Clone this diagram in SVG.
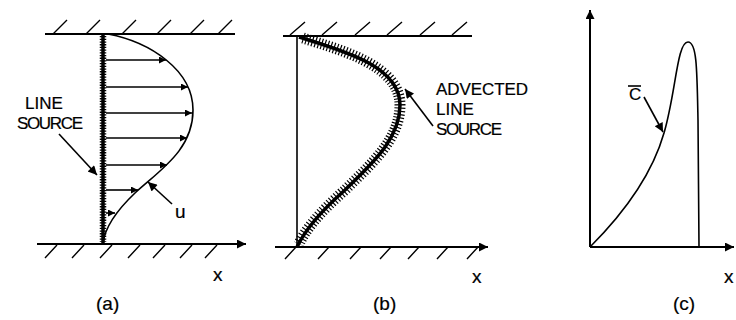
<svg xmlns="http://www.w3.org/2000/svg" width="736" height="320" viewBox="0 0 736 320">
<style>
.ln{stroke:#000;stroke-width:1.6;fill:none}
.wall{stroke:#000;stroke-width:2;fill:none}
.hat{stroke:#000;stroke-width:1.4;fill:none}
.t{font-family:"Liberation Sans",Arial,sans-serif;fill:#000;stroke:#000;stroke-width:0.2}
</style>
<defs>
<marker id="ah" viewBox="0 0 10 10" refX="10" refY="5" markerWidth="10" markerHeight="7" markerUnits="userSpaceOnUse" orient="auto">
<path d="M0,0 L10,5 L0,10 Z" fill="#000"/>
</marker>
<marker id="ahb" viewBox="0 0 10 10" refX="10" refY="5" markerWidth="14" markerHeight="9" markerUnits="userSpaceOnUse" orient="auto">
<path d="M0,0 L10,5 L0,10 Z" fill="#000"/>
</marker>
</defs>
<rect width="736" height="320" fill="#fff"/>

<g id="panel-a">
<path class="wall" d="M45,34 H235"/>
<path class="hat" d="M53,34 L67,20 M86,34 L100,20 M122,34 L136,20 M157,34 L171,20 M190,34 L204,20 M218,34 L232,20"/>
<path class="hat" d="M45,258 L57,245 M72,258 L84,245 M100,258 L112,245 M128,258 L140,245 M153,258 L165,245 M180,258 L192,245 M205,258 L217,245"/>
<path class="wall" d="M37,244 H246" marker-end="url(#ahb)"/>
<path d="M103,34 V244" stroke="#000" stroke-width="3.5" fill="none"/>
<path d="M103,36 V242" stroke="#000" stroke-width="6.5" stroke-dasharray="1.3 1.4" fill="none"/>
<path class="ln" d="M108,34 C150,42 193,70 193,110 C193,150 160,170 135,193 C115,212 105,228 103,243"/>
<g class="ln" marker-end="url(#ah)">
<path d="M106,60 H166"/>
<path d="M106,87 H188"/>
<path d="M106,113 H192"/>
<path d="M106,138 H187"/>
<path d="M106,165 H167"/>
<path d="M106,190 H138"/>
<path d="M106,213 H115"/>
</g>
<path class="ln" d="M59,134 L97,175" marker-end="url(#ahb)"/>
<path class="ln" d="M172,204 L148,182" marker-end="url(#ahb)"/>
<text class="t" x="25" y="109" font-size="17">LINE</text>
<text class="t" x="17" y="129" font-size="17" textLength="66">SOURCE</text>
<text class="t" x="175" y="218" font-size="19">u</text>
<text class="t" x="213" y="281" font-size="19">x</text>
<text class="t" x="96" y="310" font-size="19">(a)</text>
</g>

<g id="panel-b">
<path class="wall" d="M283,36 H472"/>
<path class="hat" d="M290,35 L305,22 M322,35 L337,22 M355,35 L370,22 M387,35 L402,22 M420,35 L435,22 M452,35 L467,22"/>
<path class="hat" d="M285,259 L296,247 M318,259 L329,247 M350,259 L361,247 M380,259 L391,247 M408,259 L419,247 M437,259 L448,247 M467,259 L478,247"/>
<path class="wall" d="M275,247 H488" marker-end="url(#ahb)"/>
<path class="ln" d="M297,36 V247"/>
<path d="M299,37 C340,50 400,65 400,105 C400,140 370,165 345,190 C320,212 305,230 297,247" stroke="#000" stroke-width="3.5" fill="none"/>
<path d="M303,38 C340,50 400,65 400,105 C400,140 370,165 345,190 C320,212 305,230 299,244" stroke="#000" stroke-width="11" stroke-dasharray="1.2 2" fill="none"/>
<path class="ln" d="M433,126 L405,89" marker-end="url(#ahb)"/>
<text class="t" x="436" y="95" font-size="17" textLength="92">ADVECTED</text>
<text class="t" x="436" y="115" font-size="17">LINE</text>
<text class="t" x="436" y="135" font-size="17" textLength="66">SOURCE</text>
<text class="t" x="472" y="283" font-size="19">x</text>
<text class="t" x="373" y="310" font-size="19">(b)</text>
</g>

<g id="panel-c">
<path class="wall" d="M590,247 V10" marker-end="url(#ahb)"/>
<path class="wall" d="M590,247 H734" marker-end="url(#ahb)"/>
<path class="ln" d="M590,247 C625,212 652,175 664,133 C676,92 677,42 688,42 C697,42 697,70 698,120 L699,247"/>
<path class="ln" d="M644,97 L663,132" marker-end="url(#ahb)"/>
<path class="ln" d="M628,86 H641"/>
<text class="t" x="629" y="100" font-size="17">C</text>
<text class="t" x="724" y="283" font-size="19">x</text>
<text class="t" x="673" y="310" font-size="19">(c)</text>
</g>
</svg>
